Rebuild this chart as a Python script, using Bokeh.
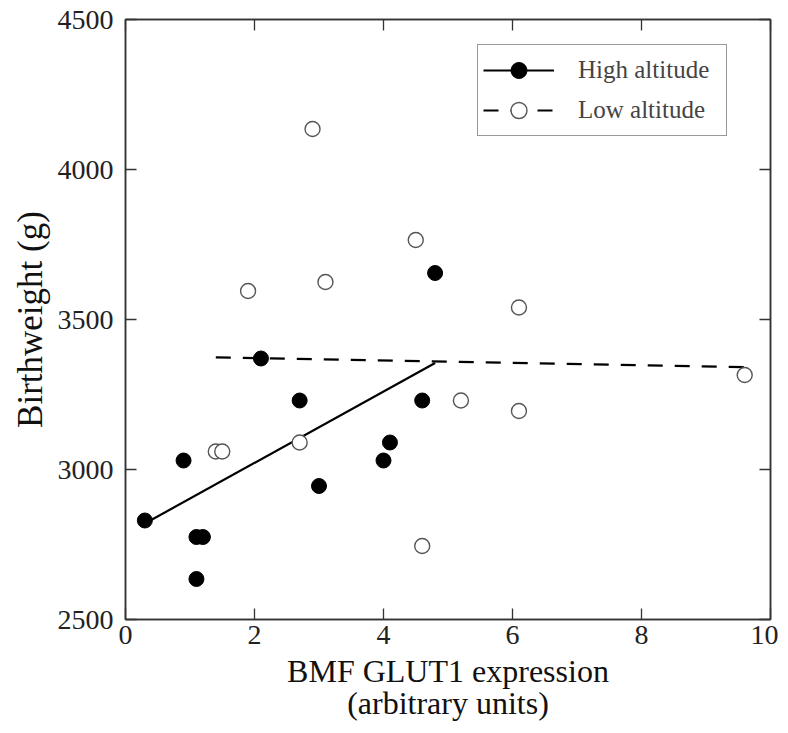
from bokeh.plotting import figure
from bokeh.models import LinearAxis, Legend, LegendItem, FixedTicker, Title
from bokeh.embed import file_html
from bokeh.resources import INLINE

# High altitude (filled circles)
high_x = [0.3, 0.9, 1.1, 1.2, 1.1, 2.1, 2.7, 3.0, 4.0, 4.1, 4.6, 4.8]
high_y = [2830, 3030, 2775, 2775, 2635, 3370, 3230, 2945, 3030, 3090, 3230, 3655]
# Low altitude (open circles)
low_x = [1.4, 1.5, 1.9, 2.7, 2.9, 3.1, 4.5, 4.6, 5.2, 6.1, 6.1, 9.6]
low_y = [3060, 3060, 3595, 3090, 4135, 3625, 3765, 2745, 3230, 3540, 3195, 3315]
# Fitted lines (endpoints)
high_fit_x = [0.3, 4.8]
high_fit_y = [2820, 3355]
low_fit_x = [1.4, 9.6]
low_fit_y = [3374, 3341]

x_ticks = [0, 2, 4, 6, 8, 10]
y_ticks = [2500, 3000, 3500, 4000, 4500]

FONT = "Liberation Serif"
AX = "#333333"

p = figure(frame_width=645, frame_height=600, x_range=(0, 10), y_range=(2500, 4500),
           output_backend="svg", toolbar_location=None,
           min_border_left=125, min_border_right=8, min_border_top=19,
           min_border_bottom=0,
           x_axis_label="BMF GLUT1 expression\n(arbitrary units)")
p.grid.visible = False
p.outline_line_color = AX
p.outline_line_width = 1.5

for ax in (p.xaxis[0], p.yaxis[0]):
    ax.major_label_text_font = FONT
    ax.major_label_text_font_size = "28px"
    ax.major_label_text_color = "#222222"
    ax.axis_label_text_font = FONT
    ax.axis_label_text_font_style = "normal"
    ax.axis_label_text_color = "#111111"
    ax.major_tick_in = 11
    ax.major_tick_out = 0
    ax.minor_tick_line_color = None
    ax.axis_line_color = AX
    ax.axis_line_width = 1.5
    ax.major_tick_line_width = 1.3
    ax.major_tick_line_color = AX

p.xaxis[0].ticker = FixedTicker(ticks=x_ticks)
p.yaxis[0].ticker = FixedTicker(ticks=y_ticks)
p.xaxis[0].axis_label_text_font_size = "32px"
p.xaxis[0].axis_label_text_line_height = 0.9
p.xaxis[0].major_label_standoff = 6
p.yaxis[0].major_label_standoff = 12
p.xaxis[0].axis_label_standoff = 6

ytitle = Title(text="Birthweight (g)", align="center", offset=-30,
               text_font=FONT, text_font_size="35px", text_font_style="normal",
               text_color="#111111", standoff=10)
p.add_layout(ytitle, "left")

top = LinearAxis(ticker=FixedTicker(ticks=x_ticks), major_label_text_font_size="0px",
                 major_tick_in=11, major_tick_out=0, minor_tick_line_color=None,
                 axis_line_color=AX, axis_line_width=1.5, major_tick_line_color=AX,
                 major_tick_line_width=1.3, major_label_standoff=0)
right = LinearAxis(ticker=FixedTicker(ticks=y_ticks), major_label_text_font_size="0px",
                   major_tick_in=11, major_tick_out=0, minor_tick_line_color=None,
                   axis_line_color=AX, axis_line_width=1.5, major_tick_line_color=AX,
                   major_tick_line_width=1.3, major_label_standoff=0)
top.major_label_text_color = None
right.major_label_text_color = None
p.add_layout(top, "above")
p.add_layout(right, "right")

hl = p.line(high_fit_x, high_fit_y, line_color="black", line_width=2.2)
ll = p.line(low_fit_x, low_fit_y, line_color="black", line_width=2.2, line_dash="15 12")
hs = p.scatter(high_x, high_y, size=15, marker="circle", fill_color="black",
               line_color="black")
ls = p.scatter(low_x, low_y, size=15, marker="circle", fill_color="white",
               line_color="#555555", line_width=1.4)

legend = Legend(items=[LegendItem(label="High altitude", renderers=[hl, hs]),
                       LegendItem(label="Low altitude", renderers=[ll, ls])],
                location=(352, 483))
legend.label_text_font = FONT
legend.label_text_font_size = "25px"
legend.border_line_color = AX
legend.border_line_width = 1.5
legend.glyph_width = 71
legend.glyph_height = 40
legend.label_height = 24
legend.label_width = 143
legend.label_standoff = 24
legend.padding = 5
legend.spacing = -4
legend.margin = 0
p.add_layout(legend)

open("out.html", "w").write(file_html(p, INLINE))
